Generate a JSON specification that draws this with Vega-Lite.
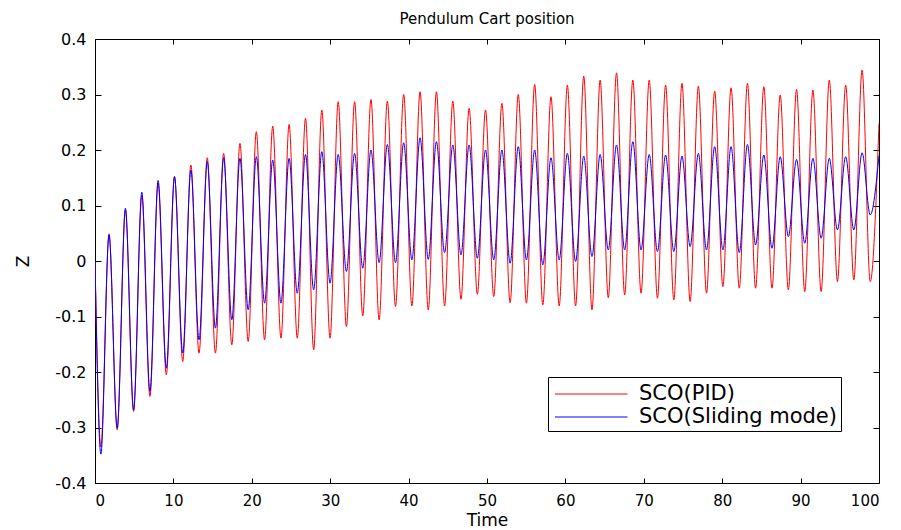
{
  "$schema": "https://vega.github.io/schema/vega-lite/v6.json",
  "width": 784,
  "height": 444,
  "autosize": {"type": "none"},
  "padding": {"left": 95, "top": 39, "right": 22, "bottom": 47},
  "background": "white",
  "title": {"text": "Pendulum Cart position", "font": "DejaVu Sans", "fontSize": 15, "fontWeight": "normal", "color": "black", "anchor": "middle", "offset": 4},
  "config": {
    "view": {"stroke": "black", "strokeWidth": 1},
    "axis": {"labelColor": "black", "titleColor": "black", "labelFont": "DejaVu Sans", "titleFont": "DejaVu Sans", "titleFontWeight": "normal", "domain": false, "ticks": false, "tickSize": 0, "grid": true, "gridColor": "black", "gridOpacity": 1, "gridWidth": 1}
  },
  "data": {"values": [
    {"t": 0, "p": 0, "s": 0},
    {"t": 0.75, "p": -0.335, "s": -0.348},
    {"t": 1.79, "p": 0.049, "s": 0.047},
    {"t": 2.83, "p": -0.304, "s": -0.301},
    {"t": 3.88, "p": 0.092, "s": 0.095},
    {"t": 4.92, "p": -0.271, "s": -0.268},
    {"t": 5.97, "p": 0.118, "s": 0.124},
    {"t": 7.01, "p": -0.244, "s": -0.235},
    {"t": 8.05, "p": 0.14, "s": 0.145},
    {"t": 9.10, "p": -0.205, "s": -0.193},
    {"t": 10.14, "p": 0.152, "s": 0.152},
    {"t": 11.19, "p": -0.181, "s": -0.166},
    {"t": 12.23, "p": 0.173, "s": 0.164},
    {"t": 13.27, "p": -0.166, "s": -0.142},
    {"t": 14.32, "p": 0.186, "s": 0.179},
    {"t": 15.36, "p": -0.166, "s": -0.121},
    {"t": 16.41, "p": 0.194, "s": 0.186},
    {"t": 17.45, "p": -0.151, "s": -0.106},
    {"t": 18.49, "p": 0.212, "s": 0.185},
    {"t": 19.54, "p": -0.145, "s": -0.088},
    {"t": 20.58, "p": 0.233, "s": 0.188},
    {"t": 21.63, "p": -0.142, "s": -0.076},
    {"t": 22.67, "p": 0.243, "s": 0.182},
    {"t": 23.72, "p": -0.139, "s": -0.076},
    {"t": 24.76, "p": 0.246, "s": 0.185},
    {"t": 25.80, "p": -0.139, "s": -0.058},
    {"t": 26.85, "p": 0.257, "s": 0.192},
    {"t": 27.89, "p": -0.160, "s": -0.052},
    {"t": 28.93, "p": 0.272, "s": 0.197},
    {"t": 29.98, "p": -0.139, "s": -0.040},
    {"t": 31.02, "p": 0.287, "s": 0.192},
    {"t": 32.07, "p": -0.118, "s": -0.019},
    {"t": 33.11, "p": 0.287, "s": 0.194},
    {"t": 34.15, "p": -0.099, "s": -0.013},
    {"t": 35.20, "p": 0.291, "s": 0.200},
    {"t": 36.24, "p": -0.106, "s": -0.003},
    {"t": 37.29, "p": 0.288, "s": 0.210},
    {"t": 38.33, "p": -0.082, "s": -0.003},
    {"t": 39.37, "p": 0.300, "s": 0.213},
    {"t": 40.42, "p": -0.081, "s": 0.002},
    {"t": 41.46, "p": 0.305, "s": 0.222},
    {"t": 42.51, "p": -0.088, "s": 0.003},
    {"t": 43.55, "p": 0.305, "s": 0.215},
    {"t": 44.59, "p": -0.081, "s": 0.015},
    {"t": 45.64, "p": 0.288, "s": 0.209},
    {"t": 46.68, "p": -0.069, "s": 0.011},
    {"t": 47.72, "p": 0.275, "s": 0.209},
    {"t": 48.77, "p": -0.060, "s": 0.005},
    {"t": 49.81, "p": 0.272, "s": 0.200},
    {"t": 50.86, "p": -0.064, "s": 0.002},
    {"t": 51.90, "p": 0.284, "s": 0.200},
    {"t": 52.95, "p": -0.075, "s": -0.004},
    {"t": 53.99, "p": 0.300, "s": 0.206},
    {"t": 55.03, "p": -0.076, "s": 0.002},
    {"t": 56.08, "p": 0.318, "s": 0.200},
    {"t": 57.12, "p": -0.079, "s": -0.007},
    {"t": 58.16, "p": 0.296, "s": 0.186},
    {"t": 59.21, "p": -0.081, "s": 0.002},
    {"t": 60.25, "p": 0.317, "s": 0.194},
    {"t": 61.30, "p": -0.081, "s": -0.001},
    {"t": 62.34, "p": 0.333, "s": 0.189},
    {"t": 63.39, "p": -0.088, "s": 0.008},
    {"t": 64.43, "p": 0.326, "s": 0.192},
    {"t": 65.47, "p": -0.066, "s": 0.020},
    {"t": 66.52, "p": 0.339, "s": 0.209},
    {"t": 67.56, "p": -0.061, "s": 0.020},
    {"t": 68.60, "p": 0.326, "s": 0.215},
    {"t": 69.65, "p": -0.058, "s": 0.020},
    {"t": 70.69, "p": 0.326, "s": 0.192},
    {"t": 71.74, "p": -0.067, "s": 0.017},
    {"t": 72.78, "p": 0.317, "s": 0.191},
    {"t": 73.83, "p": -0.070, "s": 0.017},
    {"t": 74.87, "p": 0.320, "s": 0.189},
    {"t": 75.91, "p": -0.073, "s": 0.026},
    {"t": 76.96, "p": 0.315, "s": 0.194},
    {"t": 78.00, "p": -0.058, "s": 0.020},
    {"t": 79.04, "p": 0.306, "s": 0.206},
    {"t": 80.09, "p": -0.046, "s": 0.020},
    {"t": 81.13, "p": 0.312, "s": 0.206},
    {"t": 82.18, "p": -0.049, "s": 0.015},
    {"t": 83.22, "p": 0.320, "s": 0.210},
    {"t": 84.26, "p": -0.049, "s": 0.029},
    {"t": 85.31, "p": 0.314, "s": 0.191},
    {"t": 86.35, "p": -0.049, "s": 0.023},
    {"t": 87.40, "p": 0.299, "s": 0.188},
    {"t": 88.44, "p": -0.052, "s": 0.044},
    {"t": 89.48, "p": 0.309, "s": 0.183},
    {"t": 90.53, "p": -0.055, "s": 0.032},
    {"t": 91.57, "p": 0.308, "s": 0.185},
    {"t": 92.62, "p": -0.055, "s": 0.041},
    {"t": 93.66, "p": 0.326, "s": 0.185},
    {"t": 94.70, "p": -0.037, "s": 0.056},
    {"t": 95.75, "p": 0.317, "s": 0.188},
    {"t": 96.79, "p": -0.034, "s": 0.056},
    {"t": 97.84, "p": 0.344, "s": 0.195},
    {"t": 98.88, "p": -0.037, "s": 0.083},
    {"t": 100, "p": 0.248, "s": 0.19}
  ]},
  "encoding": {
    "x": {"field": "t", "type": "quantitative", "scale": {"domain": [0, 100], "nice": false},
      "axis": {"orient": "bottom", "title": "Time", "values": [0, 10, 20, 30, 40, 50, 60, 70, 80, 90, 100], "gridDash": [5, 434, 5, 1000], "labelPadding": 10, "labelFontSize": 15, "titleFontSize": 17, "titlePadding": 4}},
    "color": {"type": "nominal", "scale": {"domain": ["SCO(PID)", "SCO(Sliding mode)"], "range": ["#ff0000", "#0000ff"]},
      "legend": {"title": null, "orient": "none", "legendX": 453, "legendY": 338, "strokeColor": "black", "fillColor": "white", "padding": 4, "labelFont": "DejaVu Sans", "labelFontSize": 21, "labelLimit": 0, "labelColor": "black", "symbolType": "M-4.8,0H1", "symbolSize": 625, "symbolStrokeWidth": 1, "labelOffset": 11, "rowPadding": 0, "symbolOffset": 50, "cornerRadius": 0}}
  },
  "layer": [
    {
      "mark": {"type": "line", "interpolate": "monotone", "strokeWidth": 1, "clip": true},
      "encoding": {
        "y": {"field": "p", "type": "quantitative", "scale": {"domain": [-0.4, 0.4], "nice": false},
          "axis": {"orient": "left", "title": "Z", "values": [-0.4, -0.3, -0.2, -0.1, 0, 0.1, 0.2, 0.3, 0.4], "gridDash": [6, 772, 6, 1000], "labelExpr": "datum.value == 0 ? '0' : (datum.value < 0 ? '-' + format(-datum.value, '.1f') : format(datum.value, '.1f'))", "labelPadding": 9, "labelFontSize": 16, "titleFontSize": 17, "titlePadding": 22}},
        "color": {"datum": "SCO(PID)"}
      }
    },
    {
      "mark": {"type": "line", "interpolate": "monotone", "strokeWidth": 1, "clip": true},
      "encoding": {
        "y": {"field": "s", "type": "quantitative"},
        "color": {"datum": "SCO(Sliding mode)"}
      }
    }
  ]
}
